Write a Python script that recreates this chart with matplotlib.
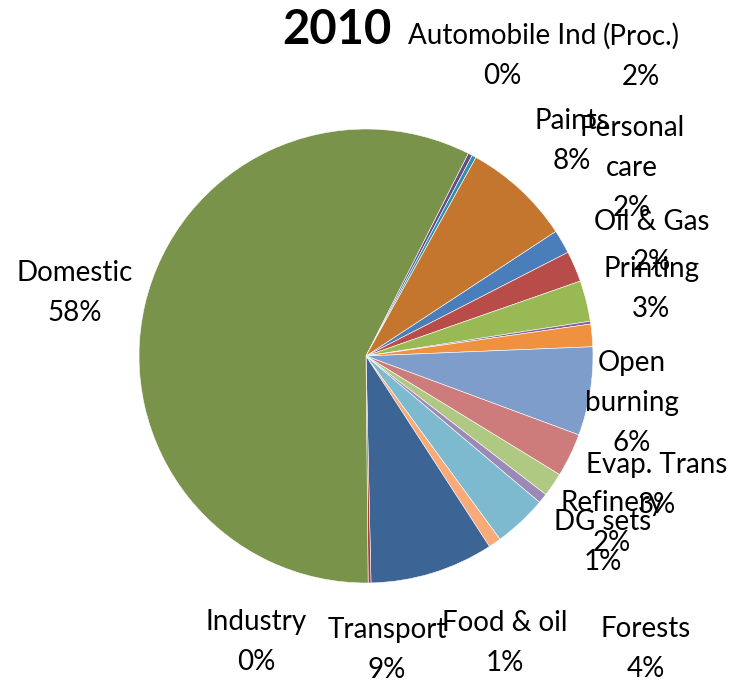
import matplotlib.pyplot as plt

# emission shares by sector, 2010 (percent), in plotting order
sectors = ['Personal\ncare', 'Oil & Gas', 'Printing', '', '(Proc.)',
           'Open\nburning', 'Evap. Trans', 'Refinery', 'DG sets', 'Forests',
           'Food & oil', 'Transport', 'Industry', 'Domestic',
           'Automobile Ind', '', 'Paints']
shares = [1.7, 2.2, 2.9, 0.2, 1.6, 6.3, 3.1, 1.7, 0.7, 3.8, 0.9, 8.8,
          0.2, 57.6, 0.3, 0.3, 7.7]

colors = ['#4A7EBB', '#B84C49', '#98B954', '#7D61A0', '#F0913F',
          '#7F9DCB', '#CE7C7B', '#B0C982', '#9C89B8', '#7DBAD0',
          '#F8AA78', '#3C6494', '#A23F3C', '#79944A', '#634C86',
          '#2E90AA', '#C4762F']

# label block centres in pixels from top-left
label_pos = {
    'Personal\ncare': (632, 168),
    'Oil & Gas': (652, 242),
    'Printing': (651, 289),
    '(Proc.)': (641, 56),
    'Open\nburning': (632, 403),
    'Evap. Trans': (657, 485),
    'Refinery': (612, 523),
    'DG sets': (603, 542),
    'Forests': (646, 649),
    'Food & oil': (505, 643),
    'Transport': (387, 650),
    'Industry': (256, 642),
    'Domestic': (75, 293),
    'Automobile Ind': (502, 56),
    'Paints': (572, 141),
}

W, H = 732, 684
fig = plt.figure(figsize=(W / 100, H / 100), dpi=100)
ax = fig.add_axes([0, 0, 1, 1])

ax.pie(shares, colors=colors, center=(366, H - 356), radius=227,
       startangle=90 - 56.7, counterclock=False,
       wedgeprops={'linewidth': 0.4, 'edgecolor': 'white'})
ax.set_xlim(0, W)
ax.set_ylim(0, H)
ax.set_aspect('equal')
ax.axis('off')

total = sum(shares)
for name, val in zip(sectors, shares):
    if not name:
        continue
    x, y = label_pos[name]
    ax.text(x, H - y, f"{name}\n{val / total * 100:.0f}%", ha='center',
            va='center', fontsize=20, family='Lato', linespacing=1.68)

ax.text(337, H - 30, '2010', ha='center', va='center', fontsize=34,
        family='Lato', fontweight='bold')

fig.savefig('out.png', dpi=100)
